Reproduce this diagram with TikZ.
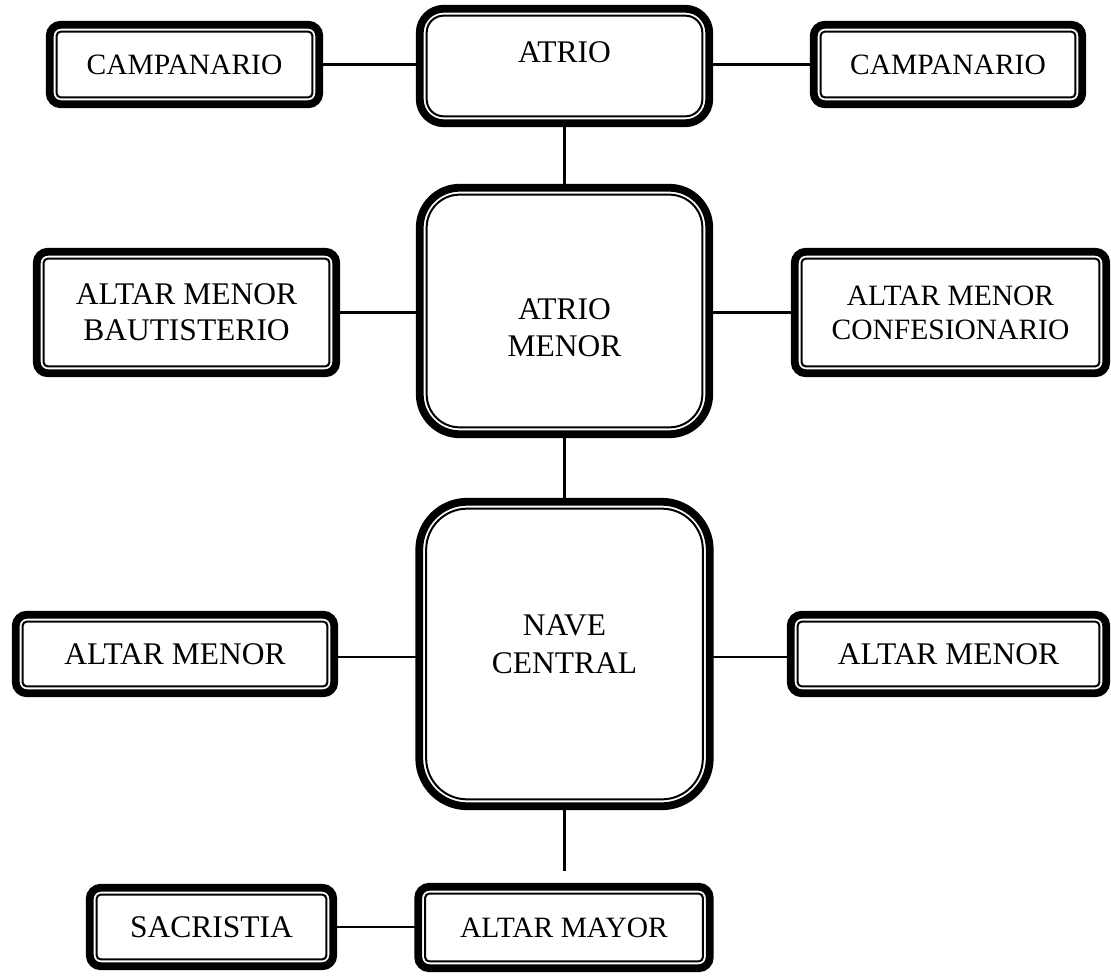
\documentclass[tikz,border=0pt]{standalone}
\usepackage{fontspec}
\setmainfont{Liberation Serif}
\begin{document}
\begin{tikzpicture}[x=1pt,y=-1pt,
  box/.style={draw, line width=7.8pt, fill=white, inner sep=0pt, outer sep=0pt,
    align=center, font=\fontsize{31.5}{36}\selectfont},
  smallfont/.style={font=\fontsize{29.5}{34}\selectfont},
  link/.style={line width=2.2pt},
  innerline/.style={line width=2pt}]
\useasboundingbox (0,0) rectangle (1111,979);
\coordinate (navend) at (564.5,871);
% boxes
\node[box, smallfont, minimum width=269.5pt, minimum height=79.5pt, rounded corners=11pt] (c1) at (184.5,64.5) {CAMPANARIO};
\node[box, minimum width=289.5pt, minimum height=114.5pt, rounded corners=24pt,
  label={[font=\fontsize{31.5}{36}\selectfont, yshift=14pt]center:ATRIO}] (atrio) at (564.5,66) {};
\node[box, smallfont, minimum width=268.5pt, minimum height=79.5pt, rounded corners=11pt] (c2) at (948,64.5) {CAMPANARIO};
\node[box, minimum width=299.5pt, minimum height=121.5pt, rounded corners=11pt] (bau) at (186.5,312.5) {ALTAR MENOR\\BAUTISTERIO};
\node[box, minimum width=289.5pt, minimum height=246.5pt, rounded corners=40pt,
  label={[align=center, font=\fontsize{31.5}{37}\selectfont, yshift=-17pt]center:ATRIO\\MENOR}] (am) at (564.5,311) {};
\node[box, smallfont, minimum width=311.5pt, minimum height=121.5pt, rounded corners=11pt] (conf) at (950.5,312.5) {ALTAR MENOR\\CONFESIONARIO};
\node[box, minimum width=290.5pt, minimum height=304.5pt, rounded corners=48pt,
  label={[align=center, font=\fontsize{31.5}{38}\selectfont, yshift=10pt]center:NAVE\\CENTRAL}] (nave) at (564.5,654) {};
\node[box, minimum width=318.5pt, minimum height=78.5pt, rounded corners=11pt] (aml) at (175,654) {ALTAR MENOR};
\node[box, minimum width=315.5pt, minimum height=78.5pt, rounded corners=11pt] (amr) at (948.5,654) {ALTAR MENOR};
\node[box, minimum width=243.5pt, minimum height=78.5pt, rounded corners=11pt] (sac) at (211.5,927) {SACRISTIA};
\node[box, smallfont, minimum width=291.5pt, minimum height=81.5pt, rounded corners=11pt] (amay) at (564,927.5) {ALTAR MAYOR};
% inner thin borders
\foreach \n/\r in {c1/4,atrio/17,c2/4,bau/4,am/33,conf/4,nave/41,aml/4,amr/4,sac/4,amay/4}{
  \draw[innerline, rounded corners=\r pt] ([shift={(6.9pt,-6.9pt)}]\n.north west) rectangle ([shift={(-6.9pt,6.9pt)}]\n.south east);
}
% connectors
\draw[link] (c1.east) -- (c1.east -| atrio.west);
\draw[link] (c2.west) -- (c2.west -| atrio.east);
\draw[link] (atrio.south) -- (am.north);
\draw[link] (bau.east) -- (bau.east -| am.west);
\draw[link] (conf.west) -- (conf.west -| am.east);
\draw[link] (am.south) -- (nave.north);
\draw[link] ([yshift=-3pt]aml.east) -- ([yshift=-3pt]aml.east -| nave.west);
\draw[link] ([yshift=-3pt]amr.west) -- ([yshift=-3pt]amr.west -| nave.east);
\draw[link] (nave.south) -- (navend);
\draw[link] (sac.east) -- (sac.east -| amay.west);
\end{tikzpicture}
\end{document}
